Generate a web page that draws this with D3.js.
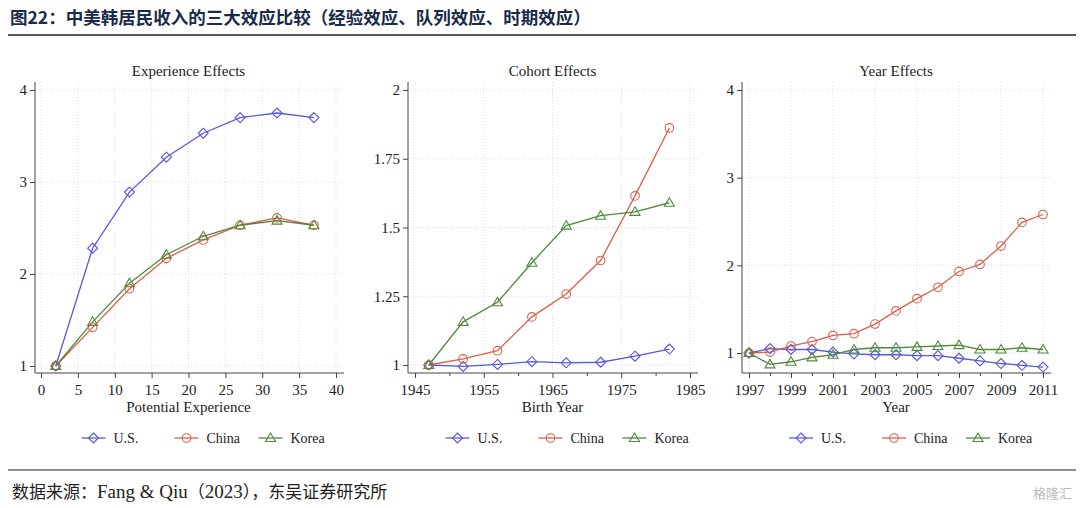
<!DOCTYPE html>
<html><head><meta charset="utf-8">
<script src="https://cdn.jsdelivr.net/npm/d3@7"></script>
<style>body{margin:0;background:#fff}svg{display:block}</style>
</head><body><svg id="c" width="1080" height="508"></svg>
<script>
const expX=[2,7,12,17,22,27,32,37];
const expUS=[1,2.28,2.89,3.27,3.53,3.70,3.75,3.70];
const expCN=[1,1.42,1.84,2.17,2.37,2.53,2.61,2.53];
const expKR=[1,1.48,1.90,2.21,2.41,2.53,2.58,2.53];
const cohX=[1947,1952,1957,1962,1967,1972,1977,1982];
const cohUS=[1,0.995,1.002,1.012,1.008,1.010,1.032,1.058];
const cohCN=[1,1.022,1.052,1.175,1.258,1.38,1.615,1.862];
const cohKR=[1,1.157,1.228,1.372,1.507,1.543,1.557,1.59];
const yrX=[1997,1998,1999,2000,2001,2002,2003,2004,2005,2006,2007,2008,2009,2010,2011];
const yrUS=[1,1.05,1.04,1.04,1.01,0.99,0.98,0.98,0.97,0.97,0.94,0.91,0.88,0.86,0.84];
const yrCN=[1,1.01,1.08,1.13,1.20,1.22,1.33,1.48,1.62,1.75,1.93,2.01,2.22,2.49,2.58];
const yrKR=[1,0.87,0.90,0.95,0.98,1.04,1.06,1.06,1.07,1.08,1.09,1.04,1.04,1.06,1.04];
const seriesNames=["U.S.","China","Korea"];
const colors=["#5858dc","#d9604a","#4f8a3c"];
const svg=d3.select("#c");
const serif="'Liberation Serif','Times New Roman',serif";
svg.append("text").attr("x",10).attr("y",24).attr("font-family","'Noto Sans CJK SC'").attr("font-weight","bold")
 .attr("font-size",17.5).attr("fill","#1a2a4a").text("图22：中美韩居民收入的三大效应比较（经验效应、队列效应、时期效应）");
svg.append("line").attr("x1",8).attr("x2",1076).attr("y1",35).attr("y2",35).attr("stroke","#222").attr("stroke-width",1.5);
svg.append("line").attr("x1",8).attr("x2",1076).attr("y1",470).attr("y2",470).attr("stroke","#222").attr("stroke-width",1);
const src=svg.append("text").attr("x",12).attr("y",498).attr("font-size",17).attr("fill","#222");
src.append("tspan").attr("font-family","'Noto Sans CJK SC'").text("数据来源：");
src.append("tspan").attr("font-family",serif).attr("font-size",19).text("Fang & Qiu");
src.append("tspan").attr("font-family","'Noto Sans CJK SC'").text("（");
src.append("tspan").attr("font-family",serif).attr("font-size",19).text("2023");
src.append("tspan").attr("font-family","'Noto Sans CJK SC'").text("），东吴证券研究所");
svg.append("text").attr("x",1072).attr("y",498).attr("text-anchor","end").attr("font-family","'Noto Sans CJK SC'").attr("font-size",13).attr("fill","#bbb").text("格隆汇");

function marker(g,type,x,y,c){
  if(type===0) g.append("path").attr("d",`M${x},${y-5}L${x+5},${y}L${x},${y+5}L${x-5},${y}Z`).attr("fill","none").attr("stroke",c).attr("stroke-width",1.1);
  else if(type===1) g.append("circle").attr("cx",x).attr("cy",y).attr("r",4.3).attr("fill","none").attr("stroke",c).attr("stroke-width",1.1);
  else g.append("path").attr("d",`M${x},${y-5}L${x+5},${y+3.5}L${x-5},${y+3.5}Z`).attr("fill","none").attr("stroke",c).attr("stroke-width",1.1);
}
function panel(o){
  const g=svg.append("g");
  const x=d3.scaleLinear().domain(o.xd).range(o.xr);
  const y=d3.scaleLinear().domain(o.yd).range(o.yr);
  const top=82,bot=373;
  o.yt.forEach(t=>g.append("line").attr("x1",o.ax).attr("x2",o.xr[1]+8).attr("y1",y(t)).attr("y2",y(t)).attr("stroke","#ddd").attr("stroke-dasharray","1,2"));
  o.xt.forEach(t=>g.append("line").attr("x1",x(t)).attr("x2",x(t)).attr("y1",top).attr("y2",bot).attr("stroke","#ddd").attr("stroke-dasharray","1,2"));
  g.append("line").attr("x1",o.ax).attr("x2",o.ax).attr("y1",top).attr("y2",bot).attr("stroke","#444");
  g.append("line").attr("x1",o.ax).attr("x2",o.xr[1]+8).attr("y1",bot).attr("y2",bot).attr("stroke","#444");
  const ya=d3.axisLeft(y).tickValues(o.yt).tickSize(5).tickFormat(d=>d3.format("")(d));
  const yg=g.append("g").attr("transform",`translate(${o.ax},0)`).call(ya);
  yg.select(".domain").remove();
  yg.selectAll("line").attr("stroke","#444");
  yg.selectAll("text").attr("font-family",serif).attr("font-size",15).attr("fill","#222");
  if(o.xm){const xm=g.append("g").attr("transform",`translate(0,${bot})`).call(d3.axisBottom(x).tickValues(o.xm).tickSize(3).tickFormat(""));xm.select(".domain").remove();xm.selectAll("line").attr("stroke","#444");}
  const xg=g.append("g").attr("transform",`translate(0,${bot})`).call(d3.axisBottom(x).tickValues(o.xt).tickSize(5).tickFormat(d3.format("d")));
  xg.select(".domain").remove();
  xg.selectAll("line").attr("stroke","#444");
  xg.selectAll("text").attr("font-family",serif).attr("font-size",15).attr("fill","#222").attr("dy","0.9em");
  const cx=(o.xr[0]+o.xr[1])/2;
  g.append("text").attr("x",cx).attr("y",76).attr("text-anchor","middle").attr("font-family",serif).attr("font-size",15).attr("fill","#222").text(o.title);
  g.append("text").attr("x",cx).attr("y",412).attr("text-anchor","middle").attr("font-family",serif).attr("font-size",15).attr("fill","#222").text(o.xlabel);
  const line=d3.line().x((d,i)=>x(o.xs[i])).y(d=>y(d));
  o.ser.forEach((s,k)=>{
    g.append("path").datum(s).attr("d",line).attr("fill","none").attr("stroke",colors[k]).attr("stroke-width",1.3);
  });
  o.ser.forEach((s,k)=>s.forEach((v,i)=>marker(g,k,x(o.xs[i]),y(v),colors[k])));
  const lx=[cx-95,cx-2,cx+82];
  seriesNames.forEach((n,k)=>{
    g.append("line").attr("x1",lx[k]-12).attr("x2",lx[k]+12).attr("y1",438).attr("y2",438).attr("stroke",colors[k]).attr("stroke-width",1.3);
    marker(g,k,lx[k],438,colors[k]);
    g.append("text").attr("x",lx[k]+20).attr("y",443).attr("font-family",serif).attr("font-size",14).attr("fill","#222").text(n);
  });
}
panel({title:"Experience Effects",xlabel:"Potential Experience",xd:[0,40],xr:[41,336],yd:[1,4],yr:[366,90],ax:35,
 xt:[0,5,10,15,20,25,30,35,40],yt:[1,2,3,4],xs:expX,ser:[expUS,expCN,expKR]});
panel({title:"Cohort Effects",xlabel:"Birth Year",xd:[1945,1985],xr:[415,690],yd:[1,2],yr:[365,90],ax:408,
 xt:[1945,1955,1965,1975,1985],xm:[1950,1960,1970,1980],yt:[1,1.25,1.5,1.75,2],xs:cohX,ser:[cohUS,cohCN,cohKR]});
panel({title:"Year Effects",xlabel:"Year",xd:[1997,2011],xr:[749,1043],yd:[1,4],yr:[353,90],ax:742,
 xt:[1997,1999,2001,2003,2005,2007,2009,2011],xm:[1998,2000,2002,2004,2006,2008,2010],yt:[1,2,3,4],xs:yrX,ser:[yrUS,yrCN,yrKR]});
</script></body></html>
